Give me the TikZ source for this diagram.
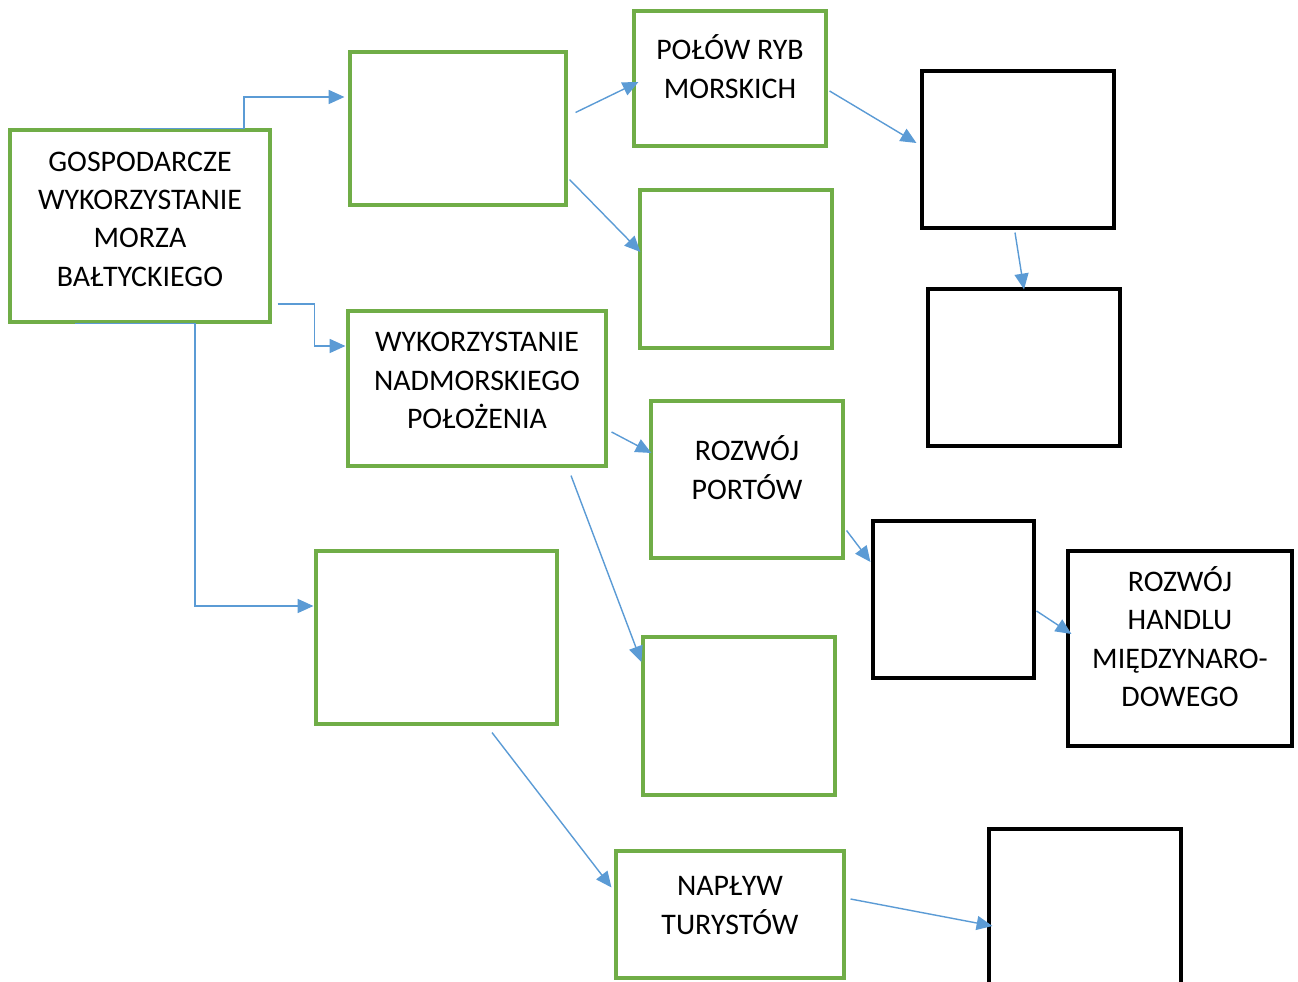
\documentclass[tikz,border=0pt]{standalone}
\usepackage{fontspec}
\setmainfont{Carlito}
\usepackage{tikz}
\usetikzlibrary{positioning,arrows.meta,calc}
\definecolor{boxgreen}{HTML}{70AD47}
\definecolor{lineblue}{HTML}{5B9BD5}
\newcommand{\bluearrow}{-{Triangle[length=9pt,width=8pt]}}

\begin{document}
\begin{tikzpicture}[x=0.02cm,y=-0.02cm,
    greenbox/.style={draw=boxgreen,line width=1.8pt,align=center,inner sep=0pt,
        font=\fontsize{17}{21.8}\selectfont},
    blackbox/.style={draw=black,line width=1.8pt,inner sep=0pt},
    conn/.style={draw=lineblue,line width=0.8pt,\bluearrow}]
    \path[use as bounding box] (0,0) rectangle (1298,982);
    \clip (0,0) rectangle (1298,982);
    % green boxes
    \node[greenbox,minimum width=5.2cm,minimum height=3.84cm,text depth=8pt] (main) at (140,226)
        {GOSPODARCZE\\WYKORZYSTANIE\\MORZA\\BAŁTYCKIEGO};
    \node[greenbox,minimum width=4.32cm,minimum height=3.06cm] (b1) at (458,128.5) {};
    \node[greenbox,minimum width=3.84cm,minimum height=2.7cm,text depth=13.6pt] (polow) at (730,78.5)
        {POŁÓW RYB\\MORSKICH};
    \node[greenbox,minimum width=3.84cm,minimum height=3.16cm] (b2) at (736,269) {};
    \node[greenbox,minimum width=5.16cm,minimum height=3.1cm,text depth=9pt] (wyk) at (477,388.5)
        {WYKORZYSTANIE\\NADMORSKIEGO\\POŁOŻENIA};
    \node[greenbox,minimum width=3.84cm,minimum height=3.14cm,text depth=13.6pt] (porty) at (747,479.5)
        {ROZWÓJ\\PORTÓW};
    \node[greenbox,minimum width=4.82cm,minimum height=3.46cm] (b3) at (436.5,637.5) {};
    \node[greenbox,minimum width=3.84cm,minimum height=3.16cm] (b4) at (739,716) {};
    \node[greenbox,minimum width=4.56cm,minimum height=2.54cm,text depth=10.2pt] (naplyw) at (730,914.5)
        {NAPŁYW\\TURYSTÓW};
    % black boxes
    \node[blackbox,minimum width=3.84cm,minimum height=3.14cm] (k1) at (1018,149.5) {};
    \node[blackbox,minimum width=3.84cm,minimum height=3.14cm] (k2) at (1024,367.5) {};
    \node[blackbox,minimum width=3.22cm,minimum height=3.14cm] (k3) at (953.5,599.5) {};
    \node[blackbox,minimum width=4.48cm,minimum height=3.9cm,align=center,text depth=13.6pt,
        font=\fontsize{17}{21.8}\selectfont] (handel) at (1180,648.5)
        {ROZWÓJ\\HANDLU\\MIĘDZYNARO-\\DOWEGO};
    \node[blackbox,minimum width=3.84cm,minimum height=3.42cm] (k4) at (1085,914.5) {};
    % connectors
    \draw[conn] (main.north) -- ++(104,0) |- ($(b1.west)+(-4,-31.5)$);
    \draw[conn] ($(main.east)+(6,78)$) -- ++(37,0) |- ($(wyk.west)+(-1,-42.5)$);
    \draw[conn] ($(main.south)+(-65,0)$) -- ++(120,0) |- ($(b3.west)+(-1,-31.5)$);
    \draw[conn] ($(b1.east)+(8,-16)$) -- ($(polow.west)+(6,3.5)$);
    \draw[conn] ($(b1.south east)+(2,-27)$) -- ($(b2.west)+(2,-17)$);
    \draw[conn] ($(polow.east)+(2,12.5)$) -- ($(k1.west)+(-4,-6.5)$);
    \draw[conn] ($(k1.south)+(-3,3)$) -- ($(k2.north)+(0,2)$);
    \draw[conn] ($(wyk.east)+(4,43.5)$) -- ($(porty.west)+(2,-26.5)$);
    \draw[conn] ($(wyk.south)+(94,8)$) -- ($(b4.west)+(0,-54)$);
    \draw[conn] ($(porty.east)+(2,51)$) -- ($(k3.west)+(-1,-37.5)$);
    \draw[conn] ($(k3.east)+(1,11.5)$) -- ($(handel.west)+(5,-14.5)$);
    \draw[conn] ($(b3.south)+(55.5,7)$) -- ($(naplyw.west)+(-3,-27)$);
    \draw[conn] ($(naplyw.east)+(5,-15.5)$) -- ($(k4.west)+(5,11.5)$);
\end{tikzpicture}
\end{document}
